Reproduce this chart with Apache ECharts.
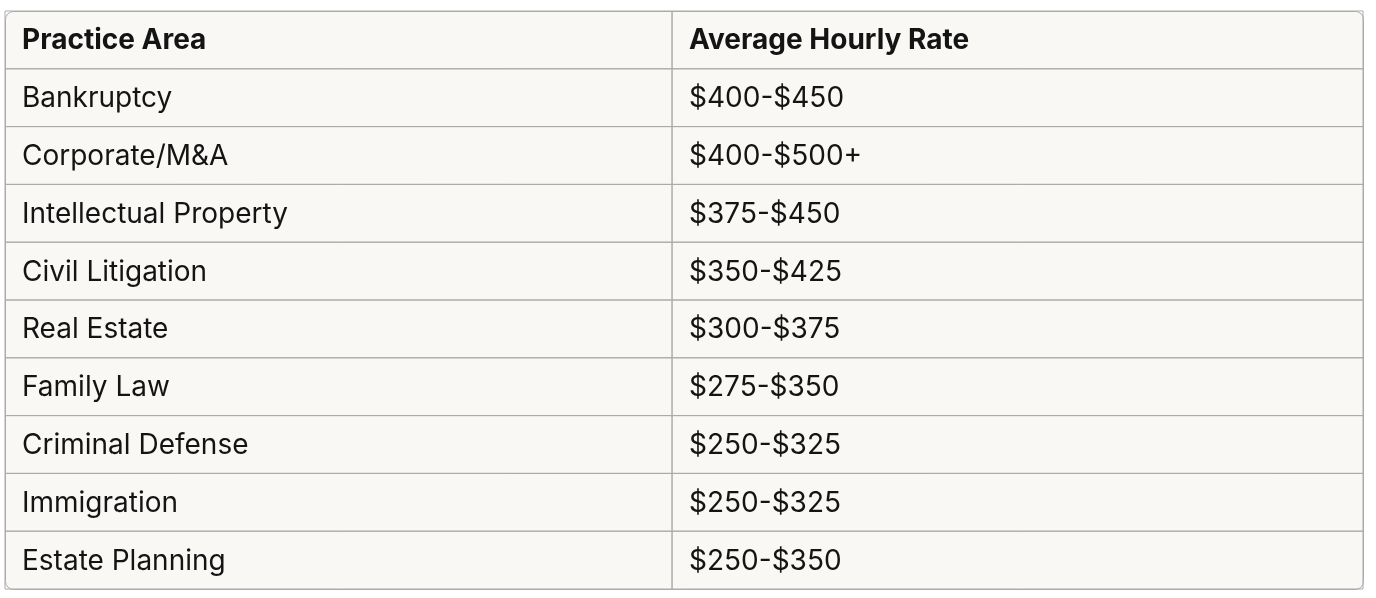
<!DOCTYPE html>
<html>
<head>
  <meta charset="utf-8">
  <title>Hourly Rates</title>
  <script src="https://cdn.jsdelivr.net/npm/echarts@6/dist/echarts.min.js"></script>
</head>
<body style="margin:0">
  <div id="container" style="height: 598px; width: 1376px"></div>
  <script>
    const headers = ['Practice Area', 'Average Hourly Rate'];
    const practiceAreas = ['Bankruptcy', 'Corporate/M&A', 'Intellectual Property', 'Civil Litigation',
      'Real Estate', 'Family Law', 'Criminal Defense', 'Immigration', 'Estate Planning'];
    const hourlyRates = ['$400-$450', '$400-$500+', '$375-$450', '$350-$425',
      '$300-$375', '$275-$350', '$250-$325', '$250-$325', '$250-$350'];

    // column edges on a 0..1 value axis
    const colEdges = [0, 0.4912, 1];
    const rowNames = ['header'].concat(practiceAreas);

    var cells = [];
    rowNames.forEach(function (name, r) {
      if (r === 0) {
        cells.push([0, r, headers[0]]);
        cells.push([1, r, headers[1]]);
      } else {
        cells.push([0, r, practiceAreas[r - 1]]);
        cells.push([1, r, hourlyRates[r - 1]]);
      }
    });

    const myChart = echarts.init(document.getElementById('container'));
    var option = {
      backgroundColor: '#ffffff',
      animation: false,
      grid: { left: 5, right: 13, top: 11, bottom: 9 },
      xAxis: { type: 'value', min: 0, max: 1, show: false },
      yAxis: { type: 'category', data: rowNames, inverse: true, show: false },
      graphic: [{
        type: 'rect', left: 5, top: 11, z: 0,
        shape: { width: 1358, height: 578, r: 8 },
        style: { fill: '#f9f8f5', stroke: '#ababab', lineWidth: 1 }
      }],
      series: [{
        type: 'custom',
        data: cells,
        renderItem: function (params, api) {
          var c = api.value(0), r = api.value(1);
          var x0 = api.coord([colEdges[c], r])[0];
          var x1 = api.coord([colEdges[c + 1], r])[0];
          var yc = api.coord([0, r])[1];
          var h = api.size([0, 1])[1];
          return {
            type: 'group',
            children: [{
              type: 'rect',
              shape: { x: x0, y: yc - h / 2, width: x1 - x0, height: h },
              style: { fill: 'rgba(0,0,0,0)', stroke: '#ababab', lineWidth: 1 }
            }, {
              type: 'text',
              style: {
                x: x0 + 17, y: yc + 1,
                text: api.value(2),
                fill: '#141414',
                font: (r === 0 ? 'bold ' : '') + '28px Inter, "Noto Sans", sans-serif',
                verticalAlign: 'middle'
              }
            }]
          };
        }
      }]
    };
    myChart.setOption(option);
  </script>
</body>
</html>
